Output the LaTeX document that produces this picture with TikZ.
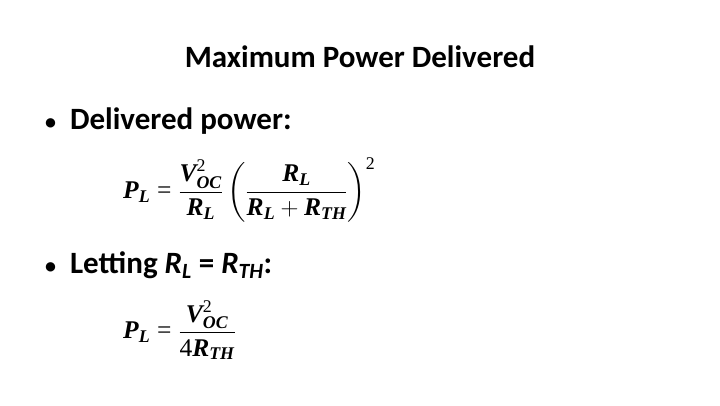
\documentclass[tikz,border=0pt]{standalone}
\usepackage{amsmath}
\usepackage{fontspec}
\setmainfont{Carlito}
\newfontfamily\tms{Liberation Serif}
\newcommand\tb[1]{\text{\tms\bfseries\itshape #1}}
\newcommand\tn[1]{\text{\tms #1}}
\begin{document}
\begin{tikzpicture}[x=1pt,y=-1pt,
  eq/.style={anchor=west,inner sep=0pt,font=\fontsize{25.5}{30}\selectfont},
  bul/.style={anchor=base west,inner sep=0pt,font=\fontsize{31}{36}\selectfont\bfseries}]
\useasboundingbox (0,0) rectangle (720,405);
\node[anchor=base,inner sep=0pt,font=\fontsize{31}{36}\selectfont\bfseries] (title) at (360,67) {Maximum Power Delivered};
\node[bul] (b1) at (45,129) {{\fontsize{22}{26}\selectfont\textbullet}\hspace{0.45em}Delivered power:};
\node[eq] (e1) at (123,190) {$\tb{P}_{\tb{L}}\;\tn{=}\;\dfrac{\tb{V}^{\tn{2}}_{\tb{OC}}}{\tb{R}_{\tb{L}}}\left(\dfrac{\tb{R}_{\tb{L}}}{\tb{R}_{\tb{L}}+\tb{R}_{\tb{TH}}}\right)^{\tn{2}}$};
\node[bul] (b2) at (45,273) {{\fontsize{22}{26}\selectfont\textbullet}\hspace{0.45em}Letting \textit{R\textsubscript{L}} = \textit{R\textsubscript{TH}}:};
\node[eq] (e2) at (123,330) {$\tb{P}_{\tb{L}}\;\tn{=}\;\dfrac{\tb{V}^{\tn{2}}_{\tb{OC}}}{\tn{4}\tb{R}_{\tb{TH}}}$};
\end{tikzpicture}
\end{document}
